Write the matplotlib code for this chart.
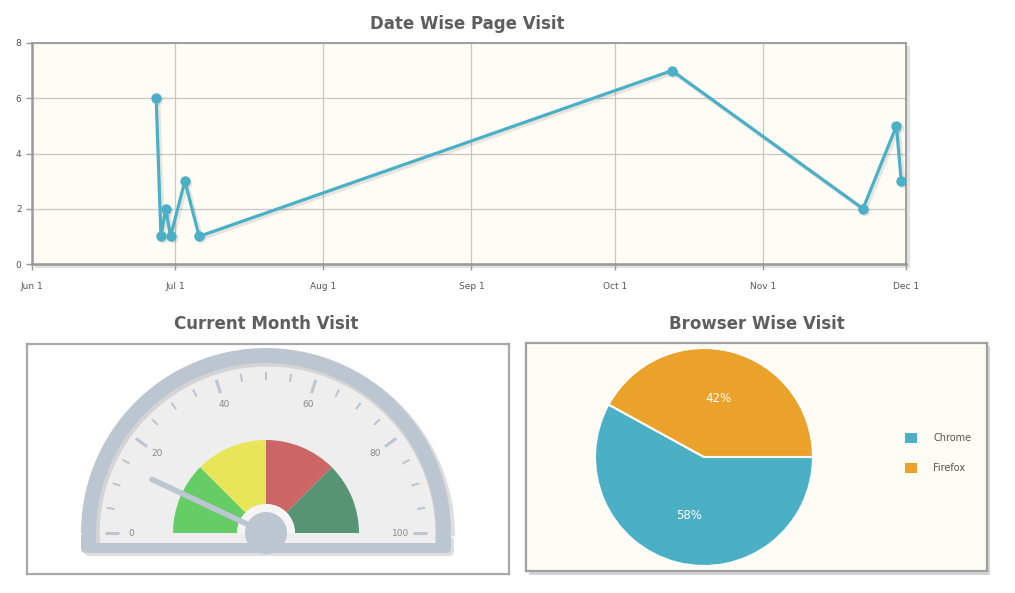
import matplotlib
matplotlib.use('Agg')
import matplotlib.pyplot as plt
import matplotlib.dates as mdates
import matplotlib.transforms as mtransforms
from matplotlib.patches import Wedge, Rectangle, FancyBboxPatch, Circle, Patch
import numpy as np
import pandas as pd

# data
visit_dates = ['2015-06-27', '2015-06-28', '2015-06-29', '2015-06-30', '2015-07-03',
               '2015-07-06', '2015-10-13', '2015-11-22', '2015-11-29', '2015-11-30']
visit_counts = [6, 1, 2, 1, 3, 1, 7, 2, 5, 3]

gauge_value = 14
gauge_bands = [(0, 25), (25, 50), (50, 75), (75, 100)]
band_colors = ['#66CC66', '#E8E559', '#CC6666', '#579473']
gauge_labels = [0, 20, 40, 60, 80, 100]

browsers = ['Chrome', 'Firefox']
browser_share = [58, 42]
browser_colors = ['#4BB0C6', '#EBA22A']

W, H = 1015, 593
TITLE_C = '#5E5E5E'
CREAM = '#FFFCF5'
plt.rcParams['font.family'] = 'DejaVu Sans'

fig = plt.figure(figsize=(W / 100, H / 100), dpi=100)


def box(l, t, r, b):
    return [l / W, 1 - b / H, (r - l) / W, (b - t) / H]


def fig_rect(l, t, r, b, color, z=0):
    fig.add_artist(Rectangle((l / W, 1 - b / H), (r - l) / W, (b - t) / H,
                             transform=fig.transFigure, color=color, zorder=z, lw=0))


# ---- top: line chart ----
fig_rect(35, 46, 910, 268, '#E2E2E2', z=-1)   # shadow
ax1 = fig.add_axes(box(32, 43, 906, 264))
ax1.set_facecolor(CREAM)
x = pd.to_datetime(visit_dates)
shadow = ax1.transData + mtransforms.ScaledTranslation(1.5 / 72, -1.5 / 72, fig.dpi_scale_trans)
ax1.plot(x, visit_counts, color=(0, 0, 0, 0.09), lw=3, marker='o', ms=7, mew=0,
         transform=shadow, zorder=2)
ax1.plot(x, visit_counts, color='#4BB0C6', lw=2.3, marker='o', ms=7.5, mew=0, zorder=3)
ax1.set_xlim(pd.Timestamp('2015-06-01'), pd.Timestamp('2015-12-01'))
ax1.set_ylim(0, 8)
ax1.xaxis.set_major_locator(mdates.MonthLocator())
ax1.xaxis.set_major_formatter(mdates.DateFormatter('%b 1'))
ax1.set_yticks([0, 2, 4, 6, 8])
ax1.grid(True, color='#C8C8C8', lw=0.9)
ax1.set_axisbelow(True)
for s in ax1.spines.values():
    s.set_color('#999999')
    s.set_linewidth(1.3)
ax1.spines['left'].set_linewidth(1.8)
ax1.spines['bottom'].set_linewidth(1.8)
ax1.tick_params(labelsize=6.5, labelcolor='#555555', color='#999999', length=4, width=1)
ax1.tick_params(axis='x', pad=9)
fig.text(467 / W, 1 - 24 / H, 'Date Wise Page Visit', ha='center', va='center',
         fontsize=12, fontweight='bold', color=TITLE_C)

# ---- bottom left: gauge ----
ax2 = fig.add_axes(box(27, 344, 509, 574))
ax2.set_xlim(-239, 243)
ax2.set_ylim(-41, 189)
ax2.set_xticks([])
ax2.set_yticks([])
for s in ax2.spines.values():
    s.set_color('#A8A8A8')
    s.set_linewidth(1.6)

ring = '#BCC6D0'
face = '#EEEEEE'
# shadow of gauge body
ax2.add_patch(Wedge((3, -3), 186, 0, 180, color='#DEDEDE', lw=0))
ax2.add_patch(FancyBboxPatch((-182, -23), 370, 20, boxstyle='round,pad=0,rounding_size=5',
                             color='#DEDEDE', lw=0))
# body
ax2.add_patch(Wedge((0, 0), 185, 0, 180, color=ring, lw=0))
ax2.add_patch(FancyBboxPatch((-185, -20), 370, 21, boxstyle='round,pad=0,rounding_size=5',
                             color=ring, lw=0))
# inner shadow then face
ax2.add_patch(Wedge((0, 0), 170, 0, 180, color='#D4D4D4', lw=0))
ax2.add_patch(Rectangle((-170, -10), 340, 10.5, color='#D4D4D4', lw=0))
ax2.add_patch(Wedge((1.5, -1.5), 168, 0, 180, color=face, lw=0))
ax2.add_patch(Rectangle((-166.5, -10), 335, 10.5, color=face, lw=0))


def ang(v):
    return 180 - v * 1.8


for (lo, hi), c in zip(gauge_bands, band_colors):
    ax2.add_patch(Wedge((0, 0), 93, ang(hi), ang(lo), width=64, color=c, lw=0))
ax2.add_patch(Wedge((0, 0), 29, 0, 180, color='#F5F5F5', lw=0))

for v in range(0, 101, 5):
    a = np.radians(ang(v))
    major = v % 20 == 0
    r0 = 147 if major else 153
    ax2.plot([r0 * np.cos(a), 161 * np.cos(a)], [r0 * np.sin(a), 161 * np.sin(a)],
             color=ring, lw=2.2 if major else 1.5, solid_capstyle='butt')
for v in gauge_labels:
    a = np.radians(ang(v))
    ax2.text(135 * np.cos(a), 135 * np.sin(a), str(v), ha='center', va='center',
             fontsize=6.5, color='#8A8A8A')

a = np.radians(ang(gauge_value))
ax2.plot([0, 126 * np.cos(a)], [0, 126 * np.sin(a)], color=ring, lw=4,
         solid_capstyle='round', zorder=4)
ax2.add_patch(Circle((0, 0), 21, color=ring, lw=0, zorder=5))
fig.text(266 / W, 1 - 324 / H, 'Current Month Visit', ha='center', va='center',
         fontsize=12, fontweight='bold', color=TITLE_C)

# ---- bottom right: pie ----
fig_rect(529, 346, 990, 575, '#D5D5D5', z=-1)
ax3 = fig.add_axes(box(526, 343, 987, 571))
wedges, _, autotexts = ax3.pie(browser_share, colors=browser_colors, radius=109,
                               startangle=0, counterclock=False, autopct='%1.0f%%',
                               pctdistance=0.55,
                               wedgeprops=dict(edgecolor='white', linewidth=1.5),
                               textprops=dict(color='white', fontsize=8.5))
ax3.set_frame_on(True)
ax3.set_facecolor(CREAM)
ax3.set_xlim(-178, 283)
ax3.set_ylim(-114, 114)
ax3.set_xticks([])
ax3.set_yticks([])
for s in ax3.spines.values():
    s.set_color('#A0A0A0')
    s.set_linewidth(1.6)
handles = [Patch(facecolor=c, edgecolor='none') for c in browser_colors]
ax3.legend(handles, browsers, loc='center left', bbox_to_anchor=(900 / W, 1 - 453 / H),
           bbox_transform=fig.transFigure, frameon=False, fontsize=7,
           handlelength=1.2, handleheight=1.2, handletextpad=1.7, labelspacing=2.0,
           borderpad=0, labelcolor='#555555')
fig.text(757 / W, 1 - 324 / H, 'Browser Wise Visit', ha='center', va='center',
         fontsize=12, fontweight='bold', color=TITLE_C)

fig.savefig('out.png', dpi=100, facecolor='white')
